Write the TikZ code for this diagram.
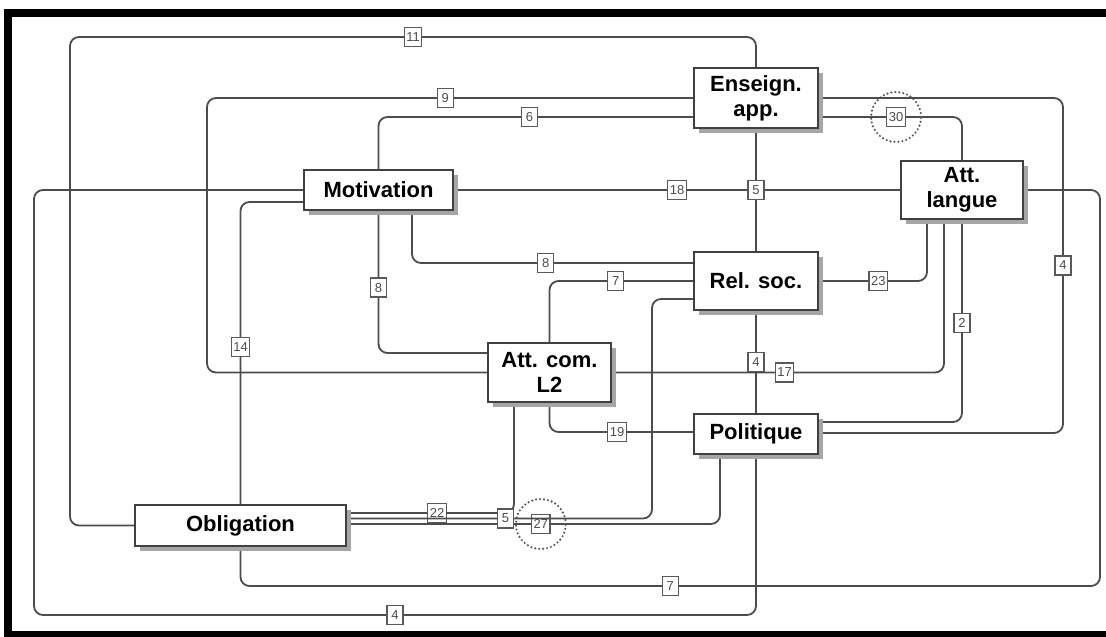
\documentclass[tikz,border=0pt]{standalone}
\usepackage{fontspec}
\setmainfont{Liberation Sans}
\usetikzlibrary{shadows, backgrounds}
\tikzset{
    % Colors
    boxGray/.style={draw=black!75, fill=white},
    wireGray/.style={draw=black!70},
    % Shapes
    concept/.style={rectangle, line width=1.4pt, inner sep=0pt, align=center, boxGray,
                    font=\fontsize{22}{25}\selectfont\bfseries,
                    drop shadow={shadow xshift=5pt, shadow yshift=-5pt, fill=black!35, opacity=1}},
    ring/.style={circle, draw=black!65, line width=2.4pt, dash pattern=on 0pt off 4pt,
                 line cap=round, minimum size=50pt, inner sep=0pt},
    % Links & Labels
    link/.style={line width=1.8pt, wireGray, rounded corners=9pt},
    num/.style={rectangle, sharp corners, draw=black!65, fill=white, line width=1.2pt, text=black!70,
                font=\fontsize{13}{14}\selectfont, inner sep=2pt,
                minimum width=16pt, minimum height=19pt}
}

\begin{document}
\begin{tikzpicture}[x=1pt, y=-1pt]
\useasboundingbox (0,0) rectangle (1106,637);

% frame
\fill[black] (4,9) rectangle (1106,17);
\fill[black] (4,9) rectangle (12,637);
\fill[black] (4,631) rectangle (1106,637);

\node[concept, minimum width=124pt, minimum height=60pt] (ens) at (756,98) {Enseign.\\app.};
\node[concept, minimum width=149pt, minimum height=40pt] (mot) at (378.5,190) {Motivation};
\node[concept, minimum width=122pt, minimum height=58pt] (attl) at (962,190) {Att.\\langue};
\node[concept, minimum width=124pt, minimum height=58pt] (rel) at (756,281) {Rel. soc.};
\node[concept, minimum width=123pt, minimum height=59pt] (attc) at (549.5,372.5) {Att. com.\\L2};
\node[concept, minimum width=124pt, minimum height=40pt] (pol) at (756,434) {Politique};
\node[concept, minimum width=211pt, minimum height=41pt] (obl) at (240.5,525.5) {Obligation};

\begin{scope}[on background layer]
\draw[link] (obl.west) -- (obl.west -| 70,0) -- (70,37) -- node[num] (w11) {11} (756,37) -- (ens.north);
\draw[link] (ens.west) -- node[num, pos=.51] (w9) {9} (207,98) -- (207,372.5) -- (attc.west);
\draw[link] (ens.west |- 0,117) -- node[num, pos=.52] (w6) {6} (378.5,117) -- (mot.north);
\draw[link] (ens.east |- 0,117) -- node[ring, pos=.54] (c30) {} node[num, pos=.54] (w30) {30} (962,117) -- (attl.north);
\draw[link] (ens.east) -- (1063,98) -- node[num] (w4r) {4} (1063,433) -- (pol.east |- 0,433);
\draw[link] (mot.east) -- node[num] (w18) {18} (attl.west);
\draw[link] (ens.south) -- node[num] (w5) {5} (rel.north);
\draw[link] (mot.west) -- (34,190) -- (34,615) -- node[num] (w4b) {4} (756,615) -- (pol.south);
\draw[link] (mot.west |- 0,202) -- (240.5,202) -- node[num, pos=.48] (w14) {14} (obl.north);
\draw[link] (mot.south) -- node[num, pos=.54] (w8a) {8} (378.5,353) -- (attc.west |- 0,353);
\draw[link] (mot.south -| 412,0) -- (412,263) -- node[num, pos=.475] (w8b) {8} (rel.west |- 0,263);
\draw[link] (attc.north) -- (549.5,281) -- node[num, pos=.46] (w7) {7} (rel.west);
\draw[link] (rel.east) -- node[num, pos=.55] (w23) {23} (927,281) -- (attl.south -| 927,0);
\draw[link] (attc.east) -- node[num, pos=.52] (w17) {17} (944,372.5) -- (attl.south -| 944,0);
\draw[link] (attl.south) -- node[num, pos=.51] (w2) {2} (962,422) -- (pol.east |- 0,422);
\draw[link] (rel.south) -- node[num] (w4m) {4} (pol.north);
\draw[link] (attc.south) -- (549.5,432) -- node[num, pos=.47] (w19) {19} (pol.west |- 0,432);
\draw[link] (attc.south -| 514,0) -- (514,513) -- node[num, pos=.46] (w22) {22} (obl.east |- 0,513);
\draw[link] (obl.east |- 0,524) -- node[ring, pos=.52] (c27) {} node[num, pos=.52] (w27) {27} (720,524) -- (pol.south -| 720,0);
\draw[link] (obl.east |- 0,518.5) -- node[num, pos=.52] (w5b) {5} (652,518.5) -- (652,299) -- (rel.west |- 0,299);
\draw[link] (attl.east) -- (1100,190) -- (1100,586) -- node[num] (w7b) {7} (240.5,586) -- (obl.south);
\end{scope}

\end{tikzpicture}
\end{document}
